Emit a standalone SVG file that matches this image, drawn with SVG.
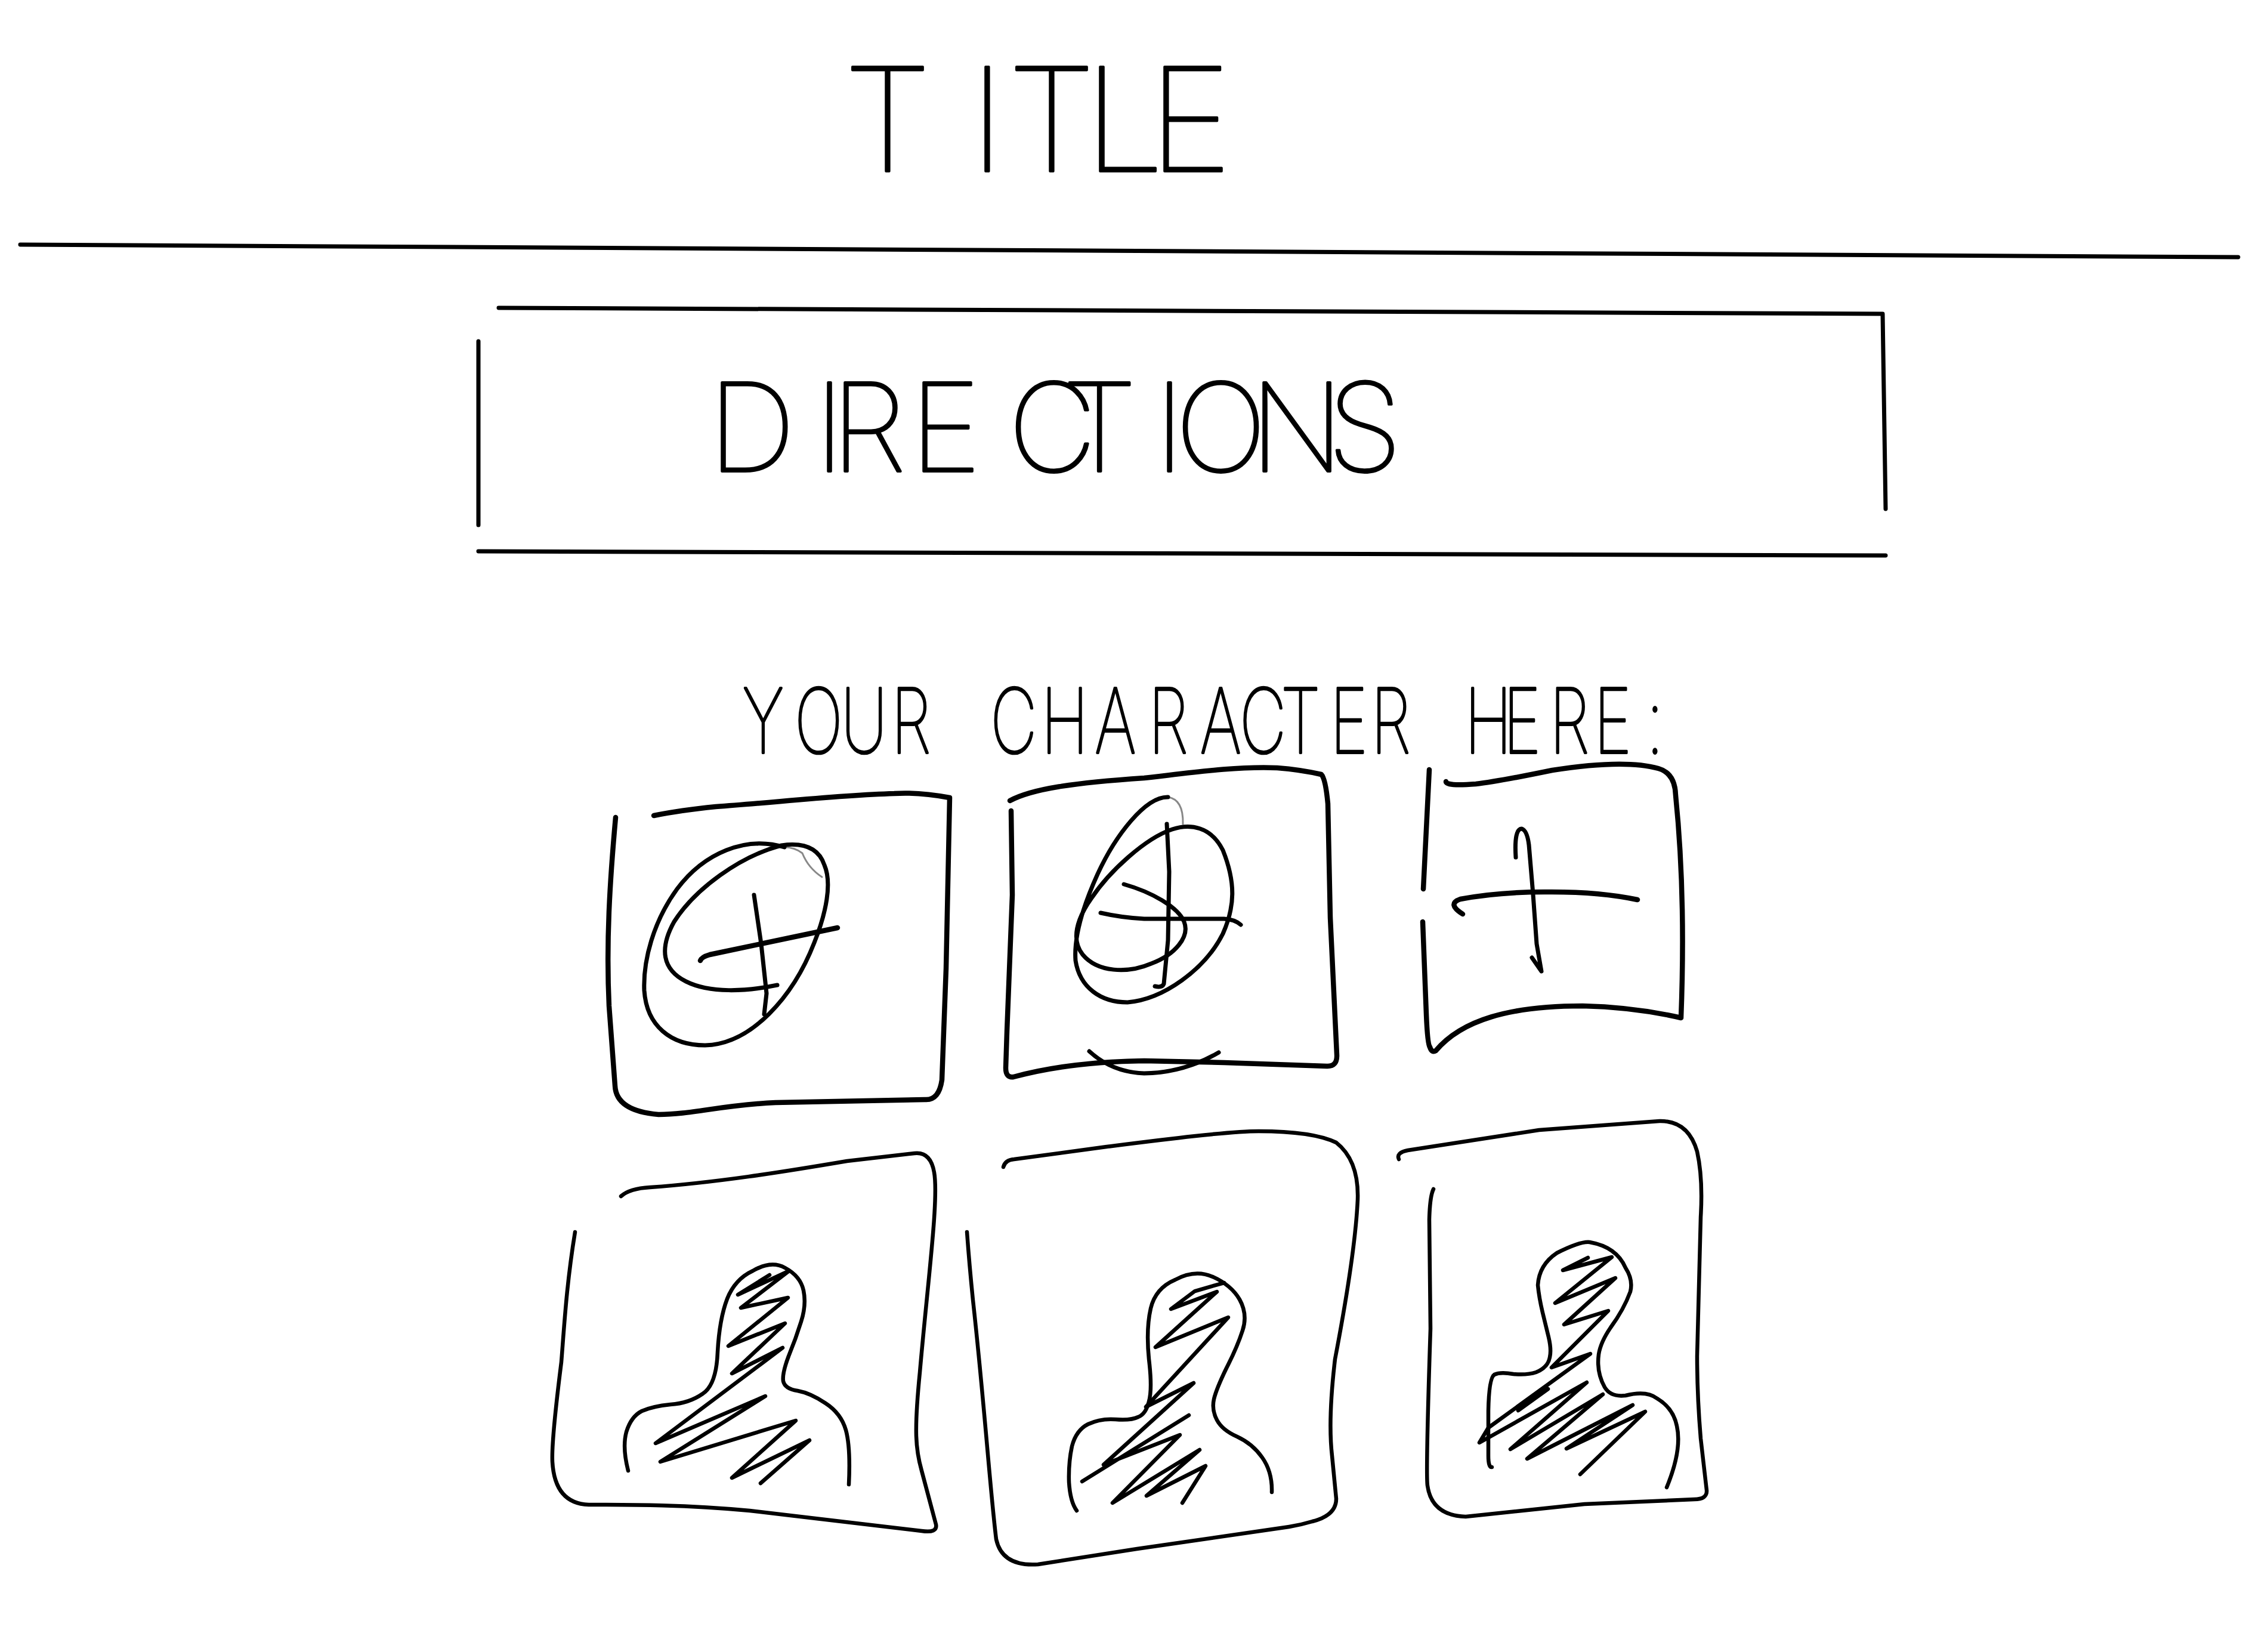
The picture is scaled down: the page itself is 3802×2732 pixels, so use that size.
<svg xmlns="http://www.w3.org/2000/svg" width="3802" height="2732" viewBox="0 0 3802 2732">
<style>
.s{fill:none;stroke:#000;stroke-linecap:round;stroke-linejoin:round;stroke-width:7}
.b{stroke-width:8.5}
.f{stroke-width:6.5}
.g{fill:none;stroke:#888;stroke-linecap:round;stroke-linejoin:round;stroke-width:3}
text{font-family:"Inter","Liberation Sans",sans-serif;font-weight:100;fill:#000;stroke:#000;stroke-linejoin:round}
</style>
<rect width="3802" height="2732" fill="#fff"/>
<g id="title"><text x="1414 1625 1689 1817 1925" y="287" font-size="240" stroke-width="4">TITLE</text></g>
<g id="divider"><path class="s" d="M34 410L3752 431"/></g>
<g id="directions">
<path class="s" d="M836 516L3156 526L3161 853M802 572L802 880M802 924L3161 931"/>
<text x="1187 1365 1393 1525 1690 1780 1935 1970 2095 2225" y="790" font-size="205" stroke-width="4">DIRECTIONS</text>
</g>
<g id="prompt"><text transform="scale(.72 1)" x="1729 1850 1958 2075 0 2306 2424 2549 2674 2794 2886 2982 3097 3192 0 3410 3500 3608 3711 3833" y="1262" font-size="150" stroke-width="4">YOUR CHARACTER HERE:</text></g>
<g id="box1">
<path class="s b" d="M1032 1370C1022 1480 1016 1580 1021 1686L1031 1820Q1033 1862 1104 1868C1160 1868 1210 1852 1300 1848L1550 1843Q1574 1845 1579 1810L1586 1623L1592 1337C1560 1331 1530 1328 1499 1330C1400 1333 1300 1345 1200 1352Q1140 1358 1096 1367"/>
<path class="g" d="M1378 1470Q1355 1455 1345 1430Q1332 1420 1315 1420"/>
<path class="s" d="M1315 1420C1250 1400 1180 1430 1135 1490C1095 1545 1078 1610 1080 1660C1084 1720 1125 1752 1182 1752C1260 1750 1330 1670 1365 1580C1385 1530 1395 1480 1382 1450C1372 1420 1345 1412 1310 1417C1240 1435 1165 1490 1130 1545C1105 1590 1110 1625 1150 1645C1190 1665 1250 1662 1303 1651"/>
<path class="s" d="M1264 1500L1276 1582L1285 1665L1281 1700"/>
<path class="s b" d="M1174 1610Q1176 1604 1190 1600L1404 1555"/>
</g>
<g id="box2">
<path class="s b" d="M1693 1342C1730 1322 1800 1312 1918 1304C1990 1296 2070 1284 2141 1287Q2180 1290 2215 1298Q2222 1305 2226 1347L2230 1538L2241 1768Q2242 1787 2225 1787L2052 1781L1918 1778Q1790 1780 1699 1805Q1686 1807 1686 1790L1688 1729L1697 1500L1695 1359"/>
<path class="g" d="M1983 1381Q1984 1340 1958 1336"/>
<path class="s" d="M1958 1336C1920 1335 1870 1400 1840 1465C1815 1520 1800 1570 1803 1610C1810 1655 1845 1680 1890 1680C1950 1675 2020 1625 2050 1565C2070 1520 2072 1480 2050 1425C2030 1385 1995 1380 1965 1390C1920 1405 1860 1460 1830 1505C1805 1540 1795 1575 1815 1600C1840 1630 1890 1632 1930 1615C1970 1600 1995 1570 1985 1545C1975 1520 1930 1495 1884 1482"/>
<path class="s" d="M1956 1381L1960 1461L1958 1576L1951 1649Q1948 1656 1936 1653"/>
<path class="s" d="M1845 1530Q1880 1538 1918 1540L2052 1540Q2070 1541 2080 1550"/>
<path class="s" d="M1826 1762Q1864 1797 1918 1799Q1985 1798 2043 1764"/>
</g>
<g id="box3">
<path class="s b" d="M2396 1290L2386 1490M2385 1545L2391 1700Q2393 1750 2397 1755Q2400 1765 2407 1761C2450 1710 2530 1686 2653 1686Q2740 1688 2818 1706Q2826 1500 2809 1333Q2808 1296 2780 1288Q2723 1272 2602 1291Q2510 1310 2474 1314Q2424 1318 2424 1310"/>
<path class="s b" d="M2452 1532Q2425 1515 2448 1507Q2510 1495 2589 1495Q2680 1494 2745 1508"/>
<path class="s" d="M2541 1437Q2538 1389 2551 1389Q2560 1392 2563 1416L2570 1499L2576 1582L2584 1628L2568 1605"/>
</g>
<g id="box4">
<path class="s f" d="M1041 2005Q1055 1992 1090 1990C1200 1982 1308 1965 1420 1946L1533 1933Q1560 1930 1566 1965C1574 2010 1555 2150 1542 2300C1532 2400 1535 2430 1545 2465L1569 2555Q1572 2570 1545 2566L1257 2532C1150 2522 1060 2522 987 2522Q930 2520 926 2450C925 2430 930 2370 941 2283C946 2220 950 2150 964 2065"/>
<path class="s f" d="M1053 2465Q1043 2426 1050 2400Q1058 2374 1076 2365Q1094 2357 1124 2354Q1155 2352 1178 2336Q1201 2321 1203 2266Q1206 2211 1219 2177Q1232 2144 1262 2130Q1293 2112 1316 2125Q1342 2139 1347 2163Q1352 2187 1343 2215Q1334 2244 1322 2273Q1311 2302 1313 2315Q1316 2328 1337 2331Q1359 2335 1384 2352Q1410 2369 1418 2397Q1426 2426 1423 2488"/>
<path class="s f" d="M1290 2137L1237 2170L1323 2130L1242 2192L1321 2175L1221 2256L1316 2218L1227 2302L1312 2259L1099 2419L1283 2340L1107 2450L1334 2381L1227 2477L1357 2414L1275 2486"/>
</g>
<g id="box5">
<path class="s f" d="M1682 1956Q1685 1944 1700 1943L1855 1922C1950 1910 2060 1896 2110 1896Q2200 1896 2240 1915Q2278 1945 2276 2010Q2272 2100 2238 2278Q2226 2380 2233 2440L2240 2512Q2240 2540 2200 2550Q2180 2556 2161 2559L1906 2596L1740 2622Q1680 2626 1670 2580C1660 2500 1650 2350 1631 2179Q1625 2120 1621 2065"/>
<path class="s f" d="M1805 2532Q1794 2517 1792 2484Q1791 2452 1797 2424Q1804 2397 1824 2387Q1845 2377 1870 2379Q1896 2381 1908 2375Q1921 2370 1926 2349Q1932 2328 1926 2278Q1921 2228 1929 2193Q1937 2159 1970 2145Q2003 2127 2033 2140Q2064 2154 2078 2178Q2092 2203 2083 2230Q2074 2258 2056 2293Q2039 2328 2035 2345Q2031 2363 2040 2380Q2049 2397 2074 2408Q2100 2420 2116 2443Q2133 2467 2132 2501"/>
<path class="s f" d="M2052 2150L2003 2164L1963 2194L2040 2165L1937 2258L2059 2208L1921 2358L2001 2318L1850 2455L1978 2405L1865 2519L2011 2430L1922 2507L2021 2457L1982 2519M1814 2483L1993 2372"/>
</g>
<g id="box6">
<path class="s f" d="M2345 1943Q2340 1932 2360 1928L2580 1894L2782 1879Q2830 1878 2845 1930Q2855 1975 2851 2040L2845 2273Q2845 2340 2851 2411L2861 2498Q2862 2513 2840 2513L2656 2521L2457 2542Q2400 2540 2393 2490Q2390 2470 2398 2227L2396 2044Q2397 2005 2403 1993"/>
<path class="s f" d="M2501 2459Q2495 2460 2495 2440L2495 2365Q2496 2310 2505 2304Q2515 2299 2537 2303Q2560 2305 2575 2300Q2595 2292 2598 2275Q2601 2262 2596 2241L2586 2200Q2580 2175 2578 2154Q2580 2120 2610 2100Q2650 2080 2665 2082Q2710 2090 2725 2125Q2738 2145 2733 2165Q2722 2195 2700 2225Q2683 2250 2680 2270Q2676 2300 2690 2325Q2700 2342 2725 2339Q2760 2330 2778 2344Q2805 2360 2811 2390Q2820 2430 2794 2493"/>
<path class="s f" d="M2662 2108L2620 2129L2702 2107L2607 2184L2708 2142L2622 2220L2696 2197L2601 2292L2666 2269L2495 2393L2480 2418L2660 2317L2532 2429L2687 2337L2560 2445L2737 2355L2626 2428L2758 2366L2649 2471M2545 2364L2595 2328"/>
</g>
</svg>
